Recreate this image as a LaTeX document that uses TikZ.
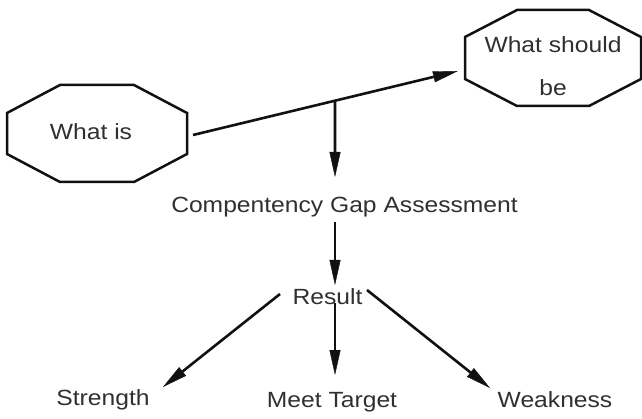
\documentclass[tikz,border=0pt]{standalone}
\usepackage{fontspec}
\setmainfont{Liberation Sans}[FakeStretch=1.12]
\usetikzlibrary{arrows.meta,calc}
\definecolor{ink}{HTML}{111111}
\definecolor{txt}{HTML}{303030}
\tikzset{
  oct/.style={draw=ink,line width=2.5pt,line join=miter},
  octbox/.style={rectangle,inner sep=0pt,outer sep=0pt},
  lbl/.style={text=txt,inner sep=0pt,font=\fontsize{22}{26}\selectfont},
  arr/.style={draw=ink,line width=2.6pt,-{Triangle[length=25pt,width=11pt,line width=0.4pt]}},
}
\newcommand\octopath[3]{%
  \draw[oct] ([xshift=#2]#1.north west) -- ([xshift=-#2]#1.north east)
    -- ([yshift=-#3]#1.north east) -- ([yshift=#3]#1.south east)
    -- ([xshift=-#2]#1.south east) -- ([xshift=#2]#1.south west)
    -- ([yshift=#3]#1.south west) -- ([yshift=-#3]#1.north west) -- cycle;}
\begin{document}
\begin{tikzpicture}[x=1pt,y=-1pt]
\useasboundingbox (0,0) rectangle (642,419);
% octagons
\node[octbox,minimum width=180pt,minimum height=97pt] (is) at (97,133.5) {};
\octopath{is}{53pt}{28pt}
\node[octbox,minimum width=176pt,minimum height=96pt] (should) at (553,58) {};
\octopath{should}{52pt}{27pt}
% texts
\node[lbl] (istxt) at (91,132) {What is};
\node[lbl] (should1) at (553,45) {What should};
\node[lbl] (should2) at (553,88) {be};
\node[lbl] (gap) at (344.5,207) {Compentency Gap Assessment};
\node[lbl] (res) at (327.5,297) {Result};
\node[lbl] (str) at (103,400) {Strength};
\node[lbl] (meet) at (332,402) {Meet Target};
\node[lbl] (weak) at (555,400) {Weakness};
% connector end points
\coordinate (m0) at (193,135);
\coordinate (m1) at (458,71);
\coordinate (v0) at ($(m0)!0.536!(m1)$);
\coordinate (v1) at (335,177);
\coordinate (g0) at (335,222);
\coordinate (g1) at (335,285);
\coordinate (s0) at (280,294);
\coordinate (s1) at (163,387);
\coordinate (t0) at (335,303);
\coordinate (t1) at (335,375);
\coordinate (w0) at (367,290);
\coordinate (w1) at (490,388);
% connectors
\draw[arr] (m0) -- (m1);
\draw[arr] (v0) -- (v1);
\draw[arr] (g0) -- (g1);
\draw[arr] (s0) -- (s1);
\draw[arr] (t0) -- (t1);
\draw[arr] (w0) -- (w1);
\end{tikzpicture}
\end{document}
